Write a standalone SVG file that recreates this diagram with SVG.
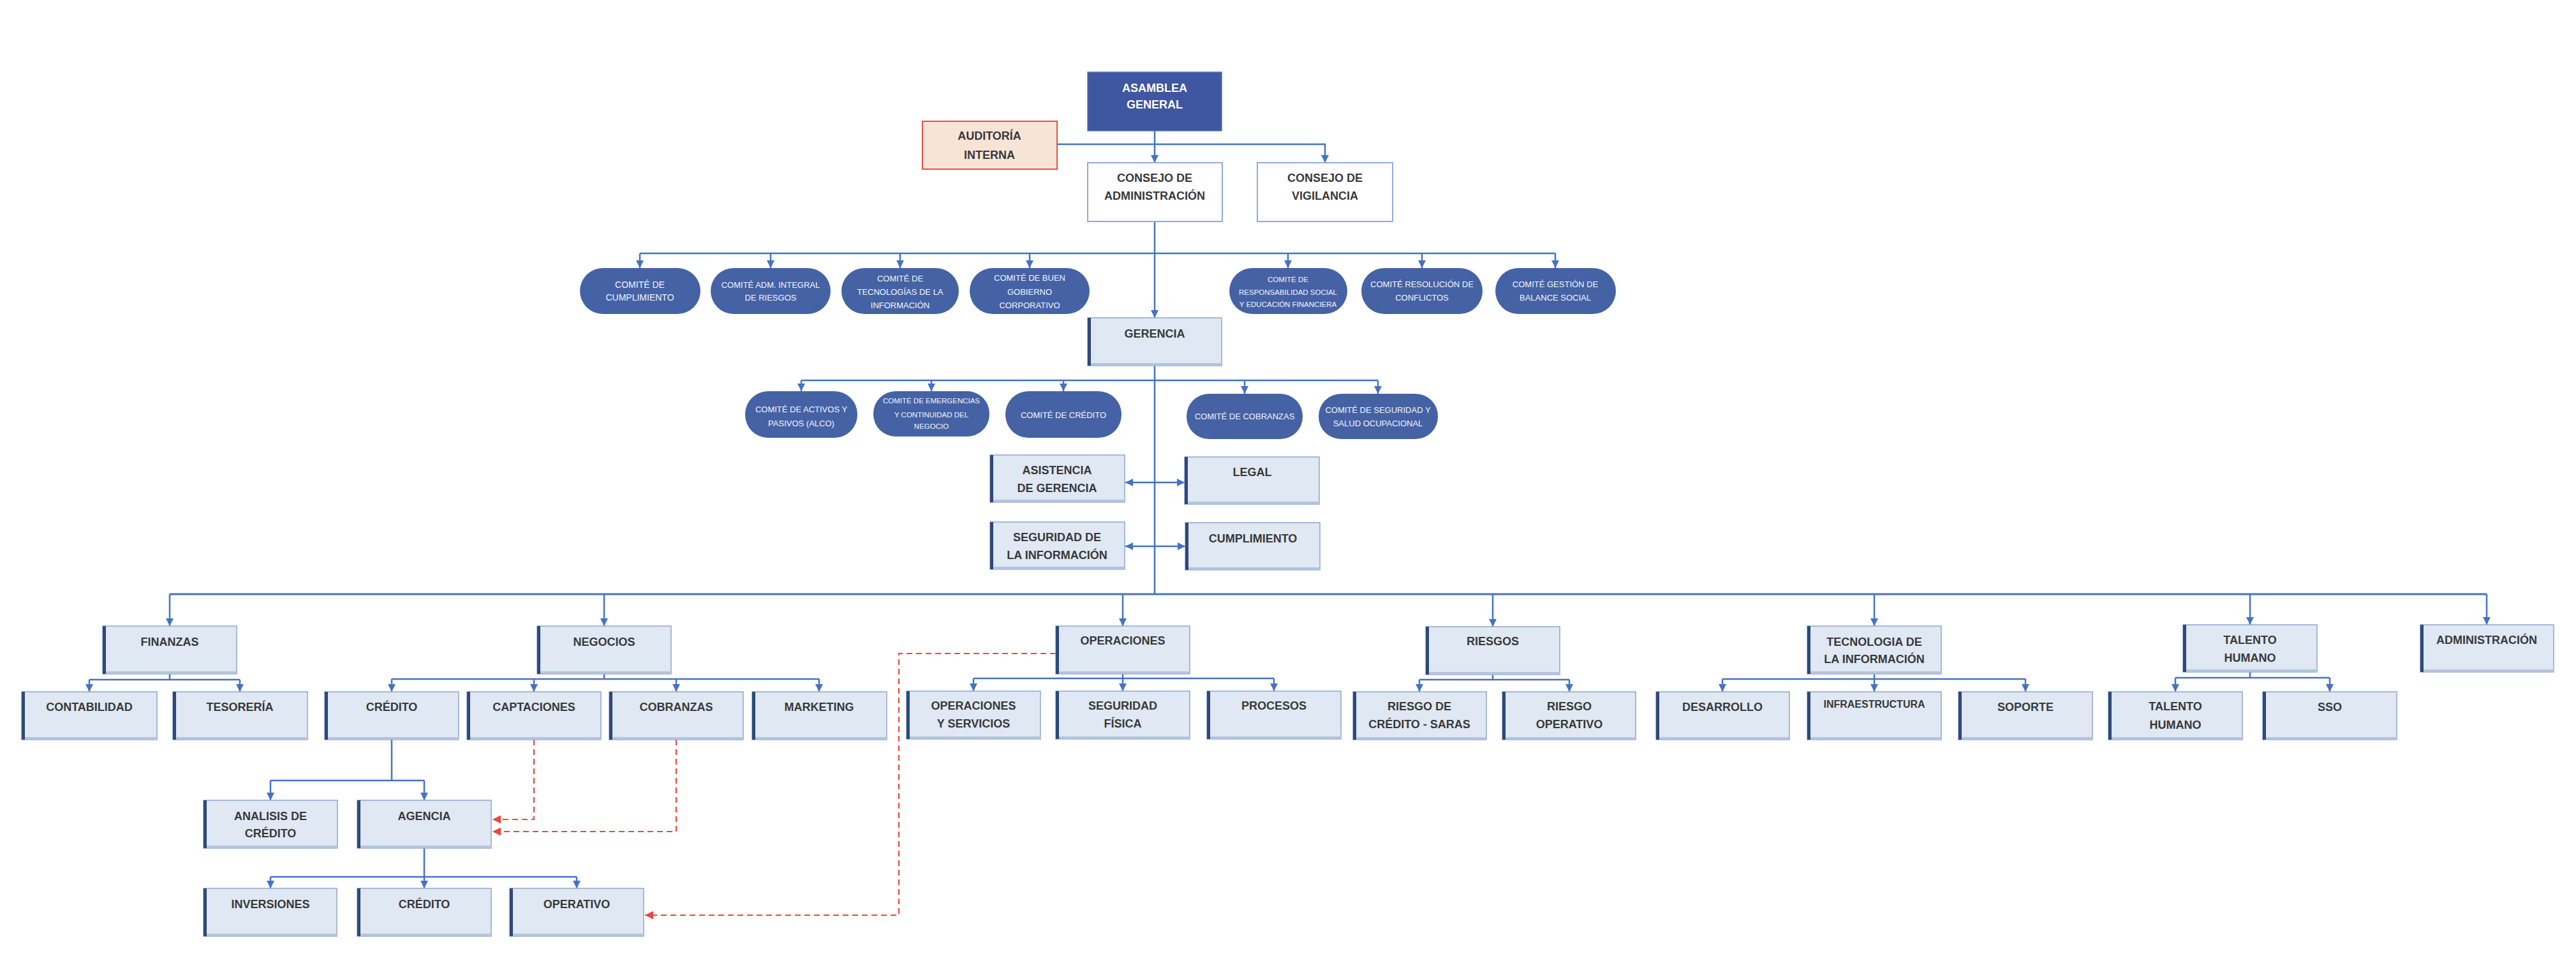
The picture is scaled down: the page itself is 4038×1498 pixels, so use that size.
<svg xmlns="http://www.w3.org/2000/svg" width="4038" height="1498" viewBox="0 0 4038 1498">
<style>
.bg{fill:#ffffff}
.box{fill:#DFE8F3;stroke:#8EA6CE;stroke-width:1.5}
.bar{fill:#2D4A79}
.sh{fill:#B3C4DE}
.wbox{fill:#ffffff;stroke:#8FAADC;stroke-width:2}
.t{font-family:"Liberation Sans",Arial,sans-serif;font-weight:bold;font-size:18px;fill:#383838;text-anchor:middle}
.tw{fill:#ffffff}
.pill{fill:#4562A5}
.pt{font-family:"Liberation Sans",Arial,sans-serif;font-size:14px;fill:#F4F6FB;text-anchor:middle}
.c{fill:none;stroke:#4472C4;stroke-width:2.5}
.r{fill:none;stroke:#E8473F;stroke-width:2.2;stroke-dasharray:9 6}
</style>
<defs>
<marker id="a" viewBox="0 0 10 10" refX="10" refY="5" markerWidth="12" markerHeight="12" markerUnits="userSpaceOnUse" orient="auto-start-reverse"><path d="M0,0 L10,5 L0,10 z" fill="#4472C4"/></marker>
<marker id="ar" viewBox="0 0 10 10" refX="10" refY="5" markerWidth="13" markerHeight="13" markerUnits="userSpaceOnUse" orient="auto"><path d="M0,0 L10,5 L0,10 z" fill="#E8473F"/></marker>
</defs>
<rect class="bg" x="0" y="0" width="4038" height="1498"/>

<g id="connectors">
<path class="c" d="M1810,205 V255" marker-end="url(#a)"/>
<path class="c" d="M1657,226 H2077 V255" marker-end="url(#a)"/>
<path class="c" d="M1810,347 V498" marker-end="url(#a)"/>
<path class="c" d="M1003,397 H2438"/>
<path class="c" d="M1003,397 V420" marker-end="url(#a)"/>
<path class="c" d="M1208,397 V420" marker-end="url(#a)"/>
<path class="c" d="M1411,397 V420" marker-end="url(#a)"/>
<path class="c" d="M1614,397 V420" marker-end="url(#a)"/>
<path class="c" d="M2019,397 V420" marker-end="url(#a)"/>
<path class="c" d="M2229,397 V420" marker-end="url(#a)"/>
<path class="c" d="M2438,397 V420" marker-end="url(#a)"/>
<path class="c" d="M1810,573 V931"/>
<path class="c" d="M1256,596 H2160"/>
<path class="c" d="M1256,596 V613" marker-end="url(#a)"/>
<path class="c" d="M1460,596 V613" marker-end="url(#a)"/>
<path class="c" d="M1667,596 V613" marker-end="url(#a)"/>
<path class="c" d="M1951,596 V617" marker-end="url(#a)"/>
<path class="c" d="M2160,596 V617" marker-end="url(#a)"/>
<path class="c" d="M1764,756 H1857" marker-start="url(#a)" marker-end="url(#a)"/>
<path class="c" d="M1764,856 H1858" marker-start="url(#a)" marker-end="url(#a)"/>
<path class="c" d="M266,931 H3898" style="stroke-width:3"/>
<path class="c" d="M266,931 V981" marker-end="url(#a)"/>
<path class="c" d="M947,931 V981" marker-end="url(#a)"/>
<path class="c" d="M1760,931 V981" marker-end="url(#a)"/>
<path class="c" d="M2340,931 V982" marker-end="url(#a)"/>
<path class="c" d="M2938,931 V981" marker-end="url(#a)"/>
<path class="c" d="M3527,931 V979" marker-end="url(#a)"/>
<path class="c" d="M3898,931 V979" marker-end="url(#a)"/>
<path class="c" d="M266,1056 V1065 M140,1065 H376"/>
<path class="c" d="M140,1065 V1084" marker-end="url(#a)"/>
<path class="c" d="M376,1065 V1084" marker-end="url(#a)"/>
<path class="c" d="M947,1056 V1064 M614,1064 H1284"/>
<path class="c" d="M614,1064 V1084" marker-end="url(#a)"/>
<path class="c" d="M837,1064 V1084" marker-end="url(#a)"/>
<path class="c" d="M1060,1064 V1084" marker-end="url(#a)"/>
<path class="c" d="M1284,1064 V1084" marker-end="url(#a)"/>
<path class="c" d="M1760,1056 V1063 M1526,1063 H1997"/>
<path class="c" d="M1526,1063 V1083" marker-end="url(#a)"/>
<path class="c" d="M1760,1063 V1083" marker-end="url(#a)"/>
<path class="c" d="M1997,1063 V1083" marker-end="url(#a)"/>
<path class="c" d="M2340,1057 V1065 M2225,1065 H2460"/>
<path class="c" d="M2225,1065 V1084" marker-end="url(#a)"/>
<path class="c" d="M2460,1065 V1084" marker-end="url(#a)"/>
<path class="c" d="M2938,1056 V1064 M2700,1064 H3175"/>
<path class="c" d="M2700,1064 V1084" marker-end="url(#a)"/>
<path class="c" d="M2938,1064 V1084" marker-end="url(#a)"/>
<path class="c" d="M3175,1064 V1084" marker-end="url(#a)"/>
<path class="c" d="M3527,1053 V1062 M3410,1062 H3652"/>
<path class="c" d="M3410,1062 V1084" marker-end="url(#a)"/>
<path class="c" d="M3652,1062 V1084" marker-end="url(#a)"/>
<path class="c" d="M614,1159 V1223 M424,1223 H665"/>
<path class="c" d="M424,1223 V1254" marker-end="url(#a)"/>
<path class="c" d="M665,1223 V1254" marker-end="url(#a)"/>
<path class="c" d="M665,1329 V1374 M424,1374 H904"/>
<path class="c" d="M424,1374 V1392" marker-end="url(#a)"/>
<path class="c" d="M665,1374 V1392" marker-end="url(#a)"/>
<path class="c" d="M904,1374 V1392" marker-end="url(#a)"/>
<path class="r" d="M837,1159 V1284 H772" marker-end="url(#ar)"/>
<path class="r" d="M1060,1159 V1303 H772" marker-end="url(#ar)"/>
<path class="r" d="M1655,1024 H1409 V1434 H1011" marker-end="url(#ar)"/>
</g>

<g id="asamblea"><rect x="1705" y="113" width="210" height="92" fill="#3F56A0" stroke="#5B75B8" stroke-width="1.5"/><text class="t tw" x="1810" y="144">ASAMBLEA</text><text class="t tw" x="1810" y="170">GENERAL</text></g>
<g id="auditoria"><rect x="1446" y="190" width="211" height="75" fill="#F7E4D7" stroke="#E0524A" stroke-width="2"/><text class="t" x="1551" y="219">AUDITORÍA</text><text class="t" x="1551" y="249">INTERNA</text></g>
<g id="consejo-admin"><rect class="wbox" x="1705" y="255" width="211" height="92"/><text class="t" x="1810" y="285">CONSEJO DE</text><text class="t" x="1810" y="313">ADMINISTRACIÓN</text></g>
<g id="consejo-vigilancia"><rect class="wbox" x="1971" y="255" width="212" height="92"/><text class="t" x="2077" y="285">CONSEJO DE</text><text class="t" x="2077" y="313">VIGILANCIA</text></g>

<g id="comite-cumplimiento"><rect class="pill" x="909" y="420" width="189" height="72" rx="36"/><text class="pt" x="1003" y="451">COMITÉ DE</text><text class="pt" x="1003" y="471">CUMPLIMIENTO</text></g>
<g id="comite-riesgos"><rect class="pill" x="1114" y="420" width="188" height="72" rx="36"/><text class="pt" x="1208" y="451" style="font-size:13px">COMITÉ ADM. INTEGRAL</text><text class="pt" x="1208" y="471" style="font-size:13px">DE RIESGOS</text></g>
<g id="comite-ti"><rect class="pill" x="1319" y="420" width="184" height="72" rx="36"/><text class="pt" x="1411" y="441" style="font-size:13px">COMITÉ DE</text><text class="pt" x="1411" y="462" style="font-size:13px">TECNOLOGÍAS DE LA</text><text class="pt" x="1411" y="483" style="font-size:13px">INFORMACIÓN</text></g>
<g id="comite-buen-gobierno"><rect class="pill" x="1520" y="420" width="188" height="72" rx="36"/><text class="pt" x="1614" y="440" style="font-size:13px">COMITÉ DE BUEN</text><text class="pt" x="1614" y="462" style="font-size:13px">GOBIERNO</text><text class="pt" x="1614" y="483" style="font-size:13px">CORPORATIVO</text></g>
<g id="comite-responsabilidad"><rect class="pill" x="1927" y="420" width="185" height="72" rx="36"/><text class="pt" x="2019" y="442" style="font-size:11.5px">COMITÉ DE</text><text class="pt" x="2019" y="462" style="font-size:11.5px">RESPONSABILIDAD SOCIAL</text><text class="pt" x="2019" y="481" style="font-size:11.5px">Y EDUCACIÓN FINANCIERA</text></g>
<g id="comite-conflictos"><rect class="pill" x="2134" y="420" width="190" height="72" rx="36"/><text class="pt" x="2229" y="450" style="font-size:13px">COMITÉ RESOLUCIÓN DE</text><text class="pt" x="2229" y="471" style="font-size:13px">CONFLICTOS</text></g>
<g id="comite-balance"><rect class="pill" x="2344" y="420" width="189" height="72" rx="36"/><text class="pt" x="2438" y="450" style="font-size:13px">COMITÉ GESTIÓN DE</text><text class="pt" x="2438" y="471" style="font-size:13px">BALANCE SOCIAL</text></g>

<g id="gerencia"><rect class="box" x="1705" y="498" width="210" height="75"/><rect class="sh" x="1705" y="569" width="210" height="4"/><rect class="bar" x="1705" y="498" width="5" height="75"/><text class="t" x="1810" y="529">GERENCIA</text></g>

<g id="comite-alco"><rect class="pill" x="1168" y="613" width="176" height="73" rx="36"/><text class="pt" x="1256" y="646" style="font-size:13px">COMITÉ DE ACTIVOS Y</text><text class="pt" x="1256" y="668" style="font-size:13px">PASIVOS (ALCO)</text></g>
<g id="comite-emergencias"><rect class="pill" x="1369" y="613" width="182" height="71" rx="35"/><text class="pt" x="1460" y="632" style="font-size:11.5px">COMITÉ DE EMERGENCIAS</text><text class="pt" x="1460" y="654" style="font-size:11.5px">Y CONTINUIDAD DEL</text><text class="pt" x="1460" y="672" style="font-size:11.5px">NEGOCIO</text></g>
<g id="comite-credito"><rect class="pill" x="1576" y="613" width="182" height="73" rx="36"/><text class="pt" x="1667" y="655" style="font-size:13px">COMITÉ DE CRÉDITO</text></g>
<g id="comite-cobranzas"><rect class="pill" x="1860" y="617" width="182" height="71" rx="35"/><text class="pt" x="1951" y="657" style="font-size:13px">COMITÉ DE COBRANZAS</text></g>
<g id="comite-sso"><rect class="pill" x="2067" y="617" width="187" height="71" rx="35"/><text class="pt" x="2160" y="647" style="font-size:13px">COMITÉ DE SEGURIDAD Y</text><text class="pt" x="2160" y="668" style="font-size:13px">SALUD OCUPACIONAL</text></g>

<g id="asistencia"><rect class="box" x="1552" y="713" width="211" height="74"/><rect class="sh" x="1552" y="783" width="211" height="4"/><rect class="bar" x="1552" y="713" width="5" height="74"/><text class="t" x="1657" y="743">ASISTENCIA</text><text class="t" x="1657" y="771">DE GERENCIA</text></g>
<g id="legal"><rect class="box" x="1857" y="716" width="211" height="74"/><rect class="sh" x="1857" y="786" width="211" height="4"/><rect class="bar" x="1857" y="716" width="5" height="74"/><text class="t" x="1963" y="746">LEGAL</text></g>
<g id="seguridad-informacion"><rect class="box" x="1552" y="818" width="211" height="74"/><rect class="sh" x="1552" y="888" width="211" height="4"/><rect class="bar" x="1552" y="818" width="5" height="74"/><text class="t" x="1657" y="848">SEGURIDAD DE</text><text class="t" x="1657" y="876">LA INFORMACIÓN</text></g>
<g id="cumplimiento"><rect class="box" x="1858" y="819" width="211" height="74"/><rect class="sh" x="1858" y="889" width="211" height="4"/><rect class="bar" x="1858" y="819" width="5" height="74"/><text class="t" x="1964" y="850">CUMPLIMIENTO</text></g>

<g id="finanzas"><rect class="box" x="161" y="981" width="210" height="75"/><rect class="sh" x="161" y="1052" width="210" height="4"/><rect class="bar" x="161" y="981" width="5" height="75"/><text class="t" x="266" y="1012">FINANZAS</text></g>
<g id="negocios"><rect class="box" x="842" y="981" width="210" height="75"/><rect class="sh" x="842" y="1052" width="210" height="4"/><rect class="bar" x="842" y="981" width="5" height="75"/><text class="t" x="947" y="1012">NEGOCIOS</text></g>
<g id="operaciones"><rect class="box" x="1655" y="981" width="210" height="75"/><rect class="sh" x="1655" y="1052" width="210" height="4"/><rect class="bar" x="1655" y="981" width="5" height="75"/><text class="t" x="1760" y="1010">OPERACIONES</text></g>
<g id="riesgos"><rect class="box" x="2235" y="982" width="210" height="75"/><rect class="sh" x="2235" y="1053" width="210" height="4"/><rect class="bar" x="2235" y="982" width="5" height="75"/><text class="t" x="2340" y="1011">RIESGOS</text></g>
<g id="tecnologia"><rect class="box" x="2833" y="981" width="210" height="75"/><rect class="sh" x="2833" y="1052" width="210" height="4"/><rect class="bar" x="2833" y="981" width="5" height="75"/><text class="t" x="2938" y="1012">TECNOLOGIA DE</text><text class="t" x="2938" y="1039">LA INFORMACIÓN</text></g>
<g id="talento-humano"><rect class="box" x="3422" y="979" width="210" height="74"/><rect class="sh" x="3422" y="1049" width="210" height="4"/><rect class="bar" x="3422" y="979" width="5" height="74"/><text class="t" x="3527" y="1009">TALENTO</text><text class="t" x="3527" y="1037">HUMANO</text></g>
<g id="administracion"><rect class="box" x="3794" y="979" width="209" height="74"/><rect class="sh" x="3794" y="1049" width="209" height="4"/><rect class="bar" x="3794" y="979" width="5" height="74"/><text class="t" x="3898" y="1009">ADMINISTRACIÓN</text></g>

<g id="contabilidad"><rect class="box" x="34" y="1084" width="212" height="75"/><rect class="sh" x="34" y="1155" width="212" height="4"/><rect class="bar" x="34" y="1084" width="5" height="75"/><text class="t" x="140" y="1114">CONTABILIDAD</text></g>
<g id="tesoreria"><rect class="box" x="271" y="1084" width="211" height="75"/><rect class="sh" x="271" y="1155" width="211" height="4"/><rect class="bar" x="271" y="1084" width="5" height="75"/><text class="t" x="376" y="1114">TESORERÍA</text></g>
<g id="credito"><rect class="box" x="509" y="1084" width="210" height="75"/><rect class="sh" x="509" y="1155" width="210" height="4"/><rect class="bar" x="509" y="1084" width="5" height="75"/><text class="t" x="614" y="1114">CRÉDITO</text></g>
<g id="captaciones"><rect class="box" x="732" y="1084" width="210" height="75"/><rect class="sh" x="732" y="1155" width="210" height="4"/><rect class="bar" x="732" y="1084" width="5" height="75"/><text class="t" x="837" y="1114">CAPTACIONES</text></g>
<g id="cobranzas"><rect class="box" x="955" y="1084" width="210" height="75"/><rect class="sh" x="955" y="1155" width="210" height="4"/><rect class="bar" x="955" y="1084" width="5" height="75"/><text class="t" x="1060" y="1114">COBRANZAS</text></g>
<g id="marketing"><rect class="box" x="1179" y="1084" width="211" height="75"/><rect class="sh" x="1179" y="1155" width="211" height="4"/><rect class="bar" x="1179" y="1084" width="5" height="75"/><text class="t" x="1284" y="1114">MARKETING</text></g>
<g id="operaciones-servicios"><rect class="box" x="1421" y="1083" width="210" height="75"/><rect class="sh" x="1421" y="1154" width="210" height="4"/><rect class="bar" x="1421" y="1083" width="5" height="75"/><text class="t" x="1526" y="1112">OPERACIONES</text><text class="t" x="1526" y="1140">Y SERVICIOS</text></g>
<g id="seguridad-fisica"><rect class="box" x="1655" y="1083" width="210" height="75"/><rect class="sh" x="1655" y="1154" width="210" height="4"/><rect class="bar" x="1655" y="1083" width="5" height="75"/><text class="t" x="1760" y="1112">SEGURIDAD</text><text class="t" x="1760" y="1140">FÍSICA</text></g>
<g id="procesos"><rect class="box" x="1892" y="1083" width="210" height="75"/><rect class="sh" x="1892" y="1154" width="210" height="4"/><rect class="bar" x="1892" y="1083" width="5" height="75"/><text class="t" x="1997" y="1112">PROCESOS</text></g>
<g id="riesgo-credito"><rect class="box" x="2121" y="1084" width="209" height="75"/><rect class="sh" x="2121" y="1155" width="209" height="4"/><rect class="bar" x="2121" y="1084" width="5" height="75"/><text class="t" x="2225" y="1113">RIESGO DE</text><text class="t" x="2225" y="1141">CRÉDITO - SARAS</text></g>
<g id="riesgo-operativo"><rect class="box" x="2355" y="1084" width="209" height="75"/><rect class="sh" x="2355" y="1155" width="209" height="4"/><rect class="bar" x="2355" y="1084" width="5" height="75"/><text class="t" x="2460" y="1113">RIESGO</text><text class="t" x="2460" y="1141">OPERATIVO</text></g>
<g id="desarrollo"><rect class="box" x="2596" y="1084" width="209" height="75"/><rect class="sh" x="2596" y="1155" width="209" height="4"/><rect class="bar" x="2596" y="1084" width="5" height="75"/><text class="t" x="2700" y="1114">DESARROLLO</text></g>
<g id="infraestructura"><rect class="box" x="2833" y="1084" width="210" height="75"/><rect class="sh" x="2833" y="1155" width="210" height="4"/><rect class="bar" x="2833" y="1084" width="5" height="75"/><text class="t" x="2938" y="1109" style="font-size:16px">INFRAESTRUCTURA</text></g>
<g id="soporte"><rect class="box" x="3070" y="1084" width="210" height="75"/><rect class="sh" x="3070" y="1155" width="210" height="4"/><rect class="bar" x="3070" y="1084" width="5" height="75"/><text class="t" x="3175" y="1114">SOPORTE</text></g>
<g id="talento-humano-2"><rect class="box" x="3305" y="1084" width="210" height="75"/><rect class="sh" x="3305" y="1155" width="210" height="4"/><rect class="bar" x="3305" y="1084" width="5" height="75"/><text class="t" x="3410" y="1113">TALENTO</text><text class="t" x="3410" y="1142">HUMANO</text></g>
<g id="sso"><rect class="box" x="3547" y="1084" width="210" height="75"/><rect class="sh" x="3547" y="1155" width="210" height="4"/><rect class="bar" x="3547" y="1084" width="5" height="75"/><text class="t" x="3652" y="1114">SSO</text></g>

<g id="analisis-credito"><rect class="box" x="319" y="1254" width="210" height="75"/><rect class="sh" x="319" y="1325" width="210" height="4"/><rect class="bar" x="319" y="1254" width="5" height="75"/><text class="t" x="424" y="1285">ANALISIS DE</text><text class="t" x="424" y="1312">CRÉDITO</text></g>
<g id="agencia"><rect class="box" x="560" y="1254" width="210" height="75"/><rect class="sh" x="560" y="1325" width="210" height="4"/><rect class="bar" x="560" y="1254" width="5" height="75"/><text class="t" x="665" y="1285">AGENCIA</text></g>
<g id="inversiones"><rect class="box" x="319" y="1392" width="209" height="75"/><rect class="sh" x="319" y="1463" width="209" height="4"/><rect class="bar" x="319" y="1392" width="5" height="75"/><text class="t" x="424" y="1423">INVERSIONES</text></g>
<g id="credito-agencia"><rect class="box" x="560" y="1392" width="210" height="75"/><rect class="sh" x="560" y="1463" width="210" height="4"/><rect class="bar" x="560" y="1392" width="5" height="75"/><text class="t" x="665" y="1423">CRÉDITO</text></g>
<g id="operativo"><rect class="box" x="799" y="1392" width="210" height="75"/><rect class="sh" x="799" y="1463" width="210" height="4"/><rect class="bar" x="799" y="1392" width="5" height="75"/><text class="t" x="904" y="1423">OPERATIVO</text></g>
</svg>
